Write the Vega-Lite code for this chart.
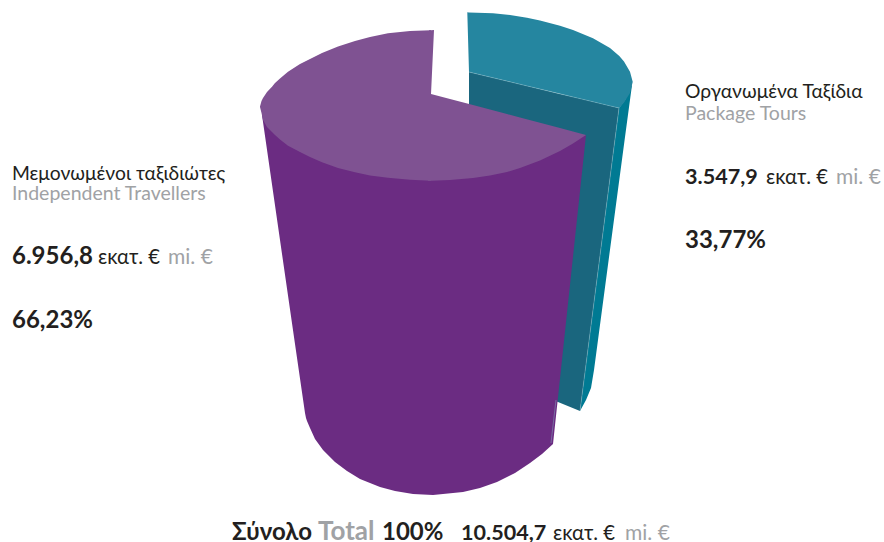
{"$schema":"https://vega.github.io/schema/vega-lite/v6.json","autosize":{"type":"none"},"width":884,"height":542,"padding":0,"background":"white","config":{"view":{"stroke":null}},
"datasets":{"shapes":[
{"s":"side1","p":"a","x":580,"y":411,"y2":411},{"s":"side1","p":"a","x":586,"y":364,"y2":400},{"s":"side1","p":"a","x":591,"y":325.5,"y2":388},{"s":"side1","p":"a","x":594,"y":302,"y2":370},{"s":"side1","p":"a","x":598,"y":271,"y2":340},{"s":"side1","p":"a","x":619,"y":108,"y2":182},{"s":"side1","p":"a","x":625,"y":100,"y2":137},{"s":"side1","p":"a","x":632,"y":84,"y2":85},
{"s":"inner1","p":"b","x":469,"y":72,"y2":300},{"s":"inner1","p":"b","x":550,"y":91.4,"y2":399},{"s":"inner1","p":"b","x":558,"y":93.4,"y2":402},{"s":"inner1","p":"b","x":580,"y":98.6,"y2":411},{"s":"inner1","p":"b","x":619,"y":108,"y2":108},
{"s":"top1","p":"c","x":467.3,"y":12.3,"y2":12.3},{"s":"top1","p":"c","x":469,"y":12.5,"y2":72},{"s":"top1","p":"c","x":493,"y":13.3,"y2":77.8},{"s":"top1","p":"c","x":510,"y":15,"y2":81.8},{"s":"top1","p":"c","x":527,"y":17.7,"y2":85.9},{"s":"top1","p":"c","x":540,"y":20.5,"y2":89},{"s":"top1","p":"c","x":560,"y":25.7,"y2":93.8},{"s":"top1","p":"c","x":573,"y":30,"y2":97},{"s":"top1","p":"c","x":593,"y":38.3,"y2":101.8},{"s":"top1","p":"c","x":610,"y":48,"y2":105.9},{"s":"top1","p":"c","x":619.3,"y":56,"y2":108},{"s":"top1","p":"c","x":624,"y":61.5,"y2":102.5},{"s":"top1","p":"c","x":630,"y":71.7,"y2":93},{"s":"top1","p":"c","x":632.7,"y":81.7,"y2":82},
{"s":"side2","p":"d","x":262,"y":113,"y2":115},{"s":"side2","p":"d","x":280,"y":135,"y2":240},{"s":"side2","p":"d","x":295,"y":145,"y2":344},{"s":"side2","p":"d","x":305,"y":148,"y2":413},{"s":"side2","p":"d","x":306,"y":149,"y2":418},{"s":"side2","p":"d","x":307,"y":149,"y2":421},{"s":"side2","p":"d","x":310,"y":150,"y2":428},{"s":"side2","p":"d","x":315,"y":152,"y2":439},{"s":"side2","p":"d","x":323,"y":155,"y2":450},{"s":"side2","p":"d","x":335,"y":160,"y2":462},{"s":"side2","p":"d","x":347,"y":165,"y2":471},{"s":"side2","p":"d","x":360,"y":168,"y2":479},{"s":"side2","p":"d","x":380,"y":170,"y2":487},{"s":"side2","p":"d","x":395,"y":172,"y2":491},{"s":"side2","p":"d","x":413,"y":175,"y2":494},{"s":"side2","p":"d","x":433,"y":176,"y2":495},{"s":"side2","p":"d","x":463,"y":175,"y2":492},{"s":"side2","p":"d","x":480,"y":172,"y2":488},{"s":"side2","p":"d","x":497,"y":170,"y2":482},{"s":"side2","p":"d","x":515,"y":165,"y2":473},{"s":"side2","p":"d","x":530,"y":160,"y2":463},{"s":"side2","p":"d","x":542,"y":155,"y2":454},{"s":"side2","p":"d","x":553,"y":150,"y2":444},{"s":"side2","p":"d","x":586,"y":135,"y2":135},
{"s":"top2","p":"e","x":260,"y":106.5,"y2":107},{"s":"top2","p":"e","x":261.5,"y":101,"y2":113},{"s":"top2","p":"e","x":263,"y":98,"y2":120},{"s":"top2","p":"e","x":267,"y":92,"y2":127},{"s":"top2","p":"e","x":272,"y":86.7,"y2":132},{"s":"top2","p":"e","x":275,"y":83,"y2":135},{"s":"top2","p":"e","x":280,"y":78.5,"y2":139.5},{"s":"top2","p":"e","x":288,"y":71.7,"y2":145.7},{"s":"top2","p":"e","x":300,"y":64,"y2":152},{"s":"top2","p":"e","x":310,"y":59,"y2":157},{"s":"top2","p":"e","x":322,"y":53,"y2":162.3},{"s":"top2","p":"e","x":338,"y":46.5,"y2":168},{"s":"top2","p":"e","x":355,"y":41,"y2":172.3},{"s":"top2","p":"e","x":370,"y":37,"y2":175.5},{"s":"top2","p":"e","x":388,"y":33.3,"y2":177.7},{"s":"top2","p":"e","x":410,"y":31,"y2":179.7},{"s":"top2","p":"e","x":431,"y":30.3,"y2":180.7},
{"s":"top2","p":"f","x":429,"y":30.3,"y2":94},{"s":"top2","p":"f","x":431,"y":30.2,"y2":94},{"s":"top2","p":"f","x":434,"y":30,"y2":30},
{"s":"top2","p":"g","x":428,"y":94,"y2":180.7},{"s":"top2","p":"g","x":431,"y":94,"y2":180.7},{"s":"top2","p":"g","x":450,"y":99,"y2":180},{"s":"top2","p":"g","x":473,"y":105.1,"y2":178},{"s":"top2","p":"g","x":490,"y":109.6,"y2":175.5},{"s":"top2","p":"g","x":507,"y":114.1,"y2":172},{"s":"top2","p":"g","x":520,"y":117.5,"y2":168},{"s":"top2","p":"g","x":540,"y":122.8,"y2":160.5},{"s":"top2","p":"g","x":560,"y":128.1,"y2":151},{"s":"top2","p":"g","x":573,"y":131.5,"y2":143.5},{"s":"top2","p":"g","x":586,"y":135,"y2":135}
],
"edges":[
{"e":"t1","x":469,"y":72},{"e":"t1","x":619,"y":108},
{"e":"t2","x":619,"y":108},{"e":"t2","x":580,"y":411},
{"e":"p1","x":551,"y":443},{"e":"p1","x":556,"y":400}
],
"regular":[
{"t":"Μεμονωμένοι ταξιδιώτες","x":12,"y":180,"k":"gr"},{"t":"Independent Travellers","x":12,"y":200,"k":"en"},
{"t":"εκατ. €","x":98,"y":264,"k":"un"},{"t":"mi. €","x":168,"y":264,"k":"mi"},
{"t":"Οργανωμένα Ταξίδια","x":685,"y":98,"k":"gr"},{"t":"Package Tours","x":685,"y":120,"k":"en"},
{"t":"εκατ. €","x":766,"y":184,"k":"un"},{"t":"mi. €","x":836,"y":184,"k":"mi"},
{"t":"εκατ. €","x":553,"y":540,"k":"un"},{"t":"mi. €","x":625,"y":540,"k":"mi"}
],
"bold":[
{"t":"6.956,8","x":12,"y":264,"k":"dark"},{"t":"66,23%","x":12,"y":328,"k":"dark"},
{"t":"3.547,9","x":685,"y":184,"k":"tight"},{"t":"33,77%","x":685,"y":248,"k":"dark"},
{"t":"Σύνολο","x":232,"y":540,"k":"dark"},{"t":"Total","x":318,"y":540,"k":"grey"},{"t":"100%","x":382,"y":540,"k":"dark"},{"t":"10.504,7","x":461,"y":540,"k":"tight"}
]},
"layer":[
{"data":{"name":"shapes"},"mark":{"type":"area","tooltip":false},
"encoding":{"x":{"field":"x","type":"quantitative","scale":{"domain":[0,884],"nice":false,"zero":false},"axis":null},
"y":{"field":"y","type":"quantitative","scale":{"domain":[542,0],"nice":false,"zero":false},"axis":null},"y2":{"field":"y2"},
"color":{"field":"s","type":"nominal","legend":null,"scale":{"domain":["side1","inner1","top1","side2","top2"],"range":["#007a93","#1a667e","#2586a0","#6b2c82","#7f5292"]}},"detail":{"field":"p"}}},
{"data":{"name":"edges"},"mark":{"type":"line","strokeWidth":0.6,"color":"#8fc0cc","opacity":0.7},
"encoding":{"x":{"field":"x","type":"quantitative","scale":{"domain":[0,884],"nice":false,"zero":false},"axis":null},
"y":{"field":"y","type":"quantitative","scale":{"domain":[542,0],"nice":false,"zero":false},"axis":null},"detail":{"field":"e"},"order":{"field":"y"}}},
{"data":{"name":"regular"},"mark":{"type":"text","align":"left","baseline":"alphabetic","font":"Lato"},
"encoding":{"x":{"field":"x","type":"quantitative","scale":{"domain":[0,884],"nice":false,"zero":false},"axis":null},
"y":{"field":"y","type":"quantitative","scale":{"domain":[542,0],"nice":false,"zero":false},"axis":null},"text":{"field":"t"},
"color":{"field":"k","type":"nominal","legend":null,"scale":{"domain":["gr","en","un","mi"],"range":["#231f20","#a0a2a5","#231f20","#a0a2a5"]}},
"size":{"field":"k","type":"nominal","legend":null,"scale":{"type":"ordinal","domain":["gr","en","un","mi"],"range":[19.3,19.5,20.3,21]}}}},
{"data":{"name":"bold"},"mark":{"type":"text","align":"left","baseline":"alphabetic","font":"Lato","fontWeight":"bold"},
"encoding":{"x":{"field":"x","type":"quantitative","scale":{"domain":[0,884],"nice":false,"zero":false},"axis":null},
"y":{"field":"y","type":"quantitative","scale":{"domain":[542,0],"nice":false,"zero":false},"axis":null},"text":{"field":"t"},
"color":{"field":"k","type":"nominal","legend":null,"scale":{"domain":["dark","tight","grey"],"range":["#231f20","#231f20","#a0a2a5"]}},
"size":{"field":"k","type":"nominal","legend":null,"scale":{"type":"ordinal","domain":["dark","tight","grey"],"range":[24,21.6,26]}}}}
],
"resolve":{"scale":{"color":"independent","size":"independent"}}}
